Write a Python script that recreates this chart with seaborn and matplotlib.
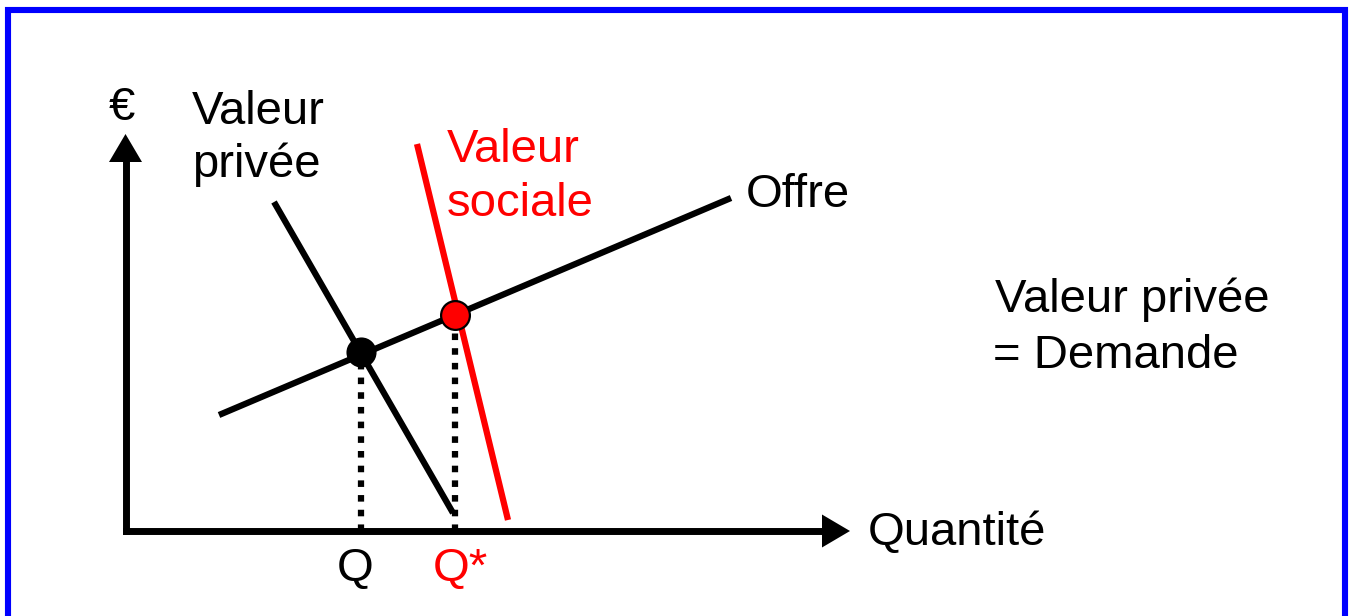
import matplotlib
matplotlib.use("Agg")
import matplotlib.pyplot as plt
from matplotlib.patches import Rectangle, Polygon
import seaborn as sns
import pandas as pd

# ---- data (diagram units) ----
offre_x = [1.87, 12.11]
offre_y = [2.32, 6.66]
privee_x = [2.97, 6.55]
privee_y = [6.58, 0.36]
sociale_x = [5.83, 7.65]
sociale_y = [7.74, 0.22]
eq_private = (4.70, 3.59)   # Q
eq_social = (6.58, 4.32)    # Q*
y_axis_top = 7.94
x_axis_right = 14.49

sns.set_style("white")
plt.rcParams['font.family'] = ['Liberation Sans', 'DejaVu Sans']
plt.rcParams['text.color'] = 'black'

fig = plt.figure(figsize=(13.54, 6.16), dpi=100)
ax = fig.add_axes([0, 0, 1, 1])
ax.set_xlim(-125.5 / 50, (1354 - 125.5) / 50)
ax.set_ylim(-(616 - 531) / 50, 531 / 50)
ax.axis("off")

LW = 4.5
# axes with arrows
ah_len, ah_half = 0.56, 0.33
ax.plot([0, 0], [0, y_axis_top - ah_len + 0.05], color="black", lw=5,
        solid_capstyle="projecting", zorder=3)
ax.plot([0, x_axis_right - ah_len + 0.05], [0, 0], color="black", lw=5,
        solid_capstyle="projecting", zorder=3)
ax.add_patch(Polygon([[0, y_axis_top], [-ah_half, y_axis_top - ah_len],
                      [ah_half, y_axis_top - ah_len]], closed=True,
                     color="black", lw=0, zorder=3))
ax.add_patch(Polygon([[x_axis_right, 0], [x_axis_right - ah_len, ah_half],
                      [x_axis_right - ah_len, -ah_half]], closed=True,
                     color="black", lw=0, zorder=3))

# curves
df_offre = pd.DataFrame({"q": offre_x, "p": offre_y})
df_priv = pd.DataFrame({"q": privee_x, "p": privee_y})
df_soc = pd.DataFrame({"q": sociale_x, "p": sociale_y})
sns.lineplot(data=df_offre, x="q", y="p", ax=ax, color="black", lw=LW,
             sort=False, solid_capstyle="butt", zorder=4)
sns.lineplot(data=df_priv, x="q", y="p", ax=ax, color="black", lw=LW,
             sort=False, solid_capstyle="butt", zorder=4)
sns.lineplot(data=df_soc, x="q", y="p", ax=ax, color="#FF0000", lw=LW,
             sort=False, solid_capstyle="butt", zorder=4)

# dotted projections
for (qx, qy) in [eq_private, eq_social]:
    ax.plot([qx, qx], [0, qy], color="black", lw=4.5,
            linestyle=(0, (1.05, 1.3)), dash_capstyle="butt", zorder=2)

# equilibrium points
sns.scatterplot(x=[eq_private[0]], y=[eq_private[1]], ax=ax, s=470,
                color="black", edgecolor="black", linewidth=0, zorder=6)
sns.scatterplot(x=[eq_social[0]], y=[eq_social[1]], ax=ax, s=430,
                color="#FF0000", edgecolor="black", linewidth=1.6, zorder=6)

FS = 34
ax.text(-0.07, 8.22, "€", fontsize=FS, ha="center", va="baseline")
ax.text(1.33, 8.14, "Valeur", fontsize=FS, ha="left", va="baseline")
ax.text(1.33, 7.08, "privée", fontsize=FS, ha="left", va="baseline")
ax.text(6.43, 7.38, "Valeur", fontsize=FS, ha="left", va="baseline", color="#FF0000")
ax.text(6.43, 6.30, "sociale", fontsize=FS, ha="left", va="baseline", color="#FF0000")
ax.text(12.41, 6.48, "Offre", fontsize=FS, ha="left", va="baseline")
ax.text(17.39, 4.38, "Valeur privée", fontsize=FS, ha="left", va="baseline")
ax.text(17.35, 3.26, "= Demande", fontsize=FS, ha="left", va="baseline")
ax.text(14.85, -0.28, "Quantité", fontsize=FS, ha="left", va="baseline")
ax.text(4.59, -1.0, "Q", fontsize=FS, ha="center", va="baseline")
ax.text(6.15, -1.0, "Q*", fontsize=FS, ha="left", va="baseline", color="#FF0000")

# blue frame
fig.patches.append(Rectangle((8 / 1354, -0.1), (1345 - 8) / 1354, 1.1 - 9.5 / 616,
                             transform=fig.transFigure, fill=False,
                             edgecolor="#0000FF", lw=4.4, figure=fig))

fig.savefig("out.png", dpi=100)
